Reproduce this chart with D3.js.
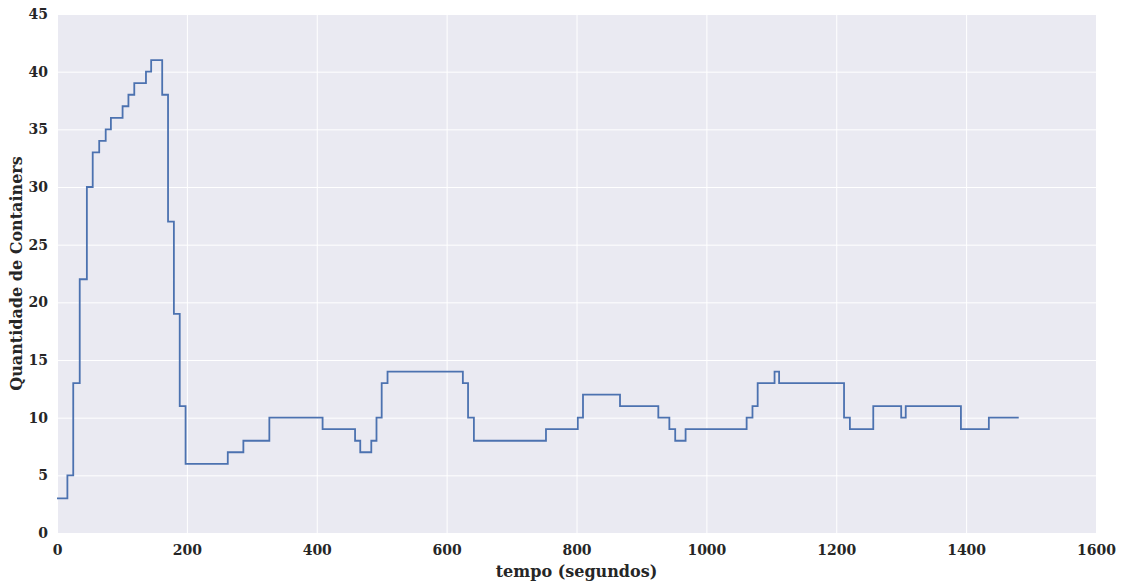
<!DOCTYPE html>
<html>
<head>
<meta charset="utf-8">
<script src="https://cdn.jsdelivr.net/npm/d3@7"></script>
<style>
  html, body { margin: 0; padding: 0; background: #fff; }
  svg { display: block; }
  .tick text { font-family: "DejaVu Serif", serif; font-weight: bold; font-size: 14px; fill: #262626; }
  .lbl { font-family: "DejaVu Serif", serif; font-weight: bold; font-size: 16px; fill: #262626; }
</style>
</head>
<body>
<svg id="chart" width="1121" height="585"></svg>
<script>
// Instants (s) at which the container count changes, and the count from then on
const times = [0, 16, 25, 35, 46, 55, 65, 75, 83, 101, 110, 119, 137, 145, 162, 171, 180, 189, 198,
  263, 287, 327, 409, 459, 467, 484, 492, 500, 509, 625, 633, 642,
  753, 802, 810, 867, 926, 943, 952, 968,
  1062, 1071, 1079, 1105, 1112, 1212, 1221, 1257, 1300, 1307, 1392, 1435, 1481];
const containers = [3, 5, 13, 22, 30, 33, 34, 35, 36, 37, 38, 39, 40, 41, 38, 27, 19, 11, 6,
  7, 8, 10, 9, 8, 7, 8, 10, 13, 14, 13, 10, 8,
  9, 10, 12, 11, 10, 9, 8, 9,
  10, 11, 13, 14, 13, 10, 9, 11, 10, 11, 9, 10, 10];
const xTicks = [0, 200, 400, 600, 800, 1000, 1200, 1400, 1600];
const yTicks = [0, 5, 10, 15, 20, 25, 30, 35, 40, 45];

const svg = d3.select("#chart");
const m = { left: 57, right: 1096, top: 14, bottom: 533 };

const x = d3.scaleLinear().domain([0, 1600]).range([m.left, m.right]);
const y = d3.scaleLinear().domain([0, 45]).range([m.bottom, m.top]);

// plot background
svg.append("rect")
  .attr("x", m.left).attr("y", m.top)
  .attr("width", m.right - m.left).attr("height", m.bottom - m.top)
  .attr("fill", "#EAEAF2");

// grid + ticks
const xAxis = svg.append("g")
  .attr("transform", `translate(0,${m.bottom})`)
  .call(d3.axisBottom(x).tickValues(xTicks).tickFormat(d3.format("d"))
    .tickSize(-(m.bottom - m.top)).tickPadding(9));
const yAxis = svg.append("g")
  .attr("transform", `translate(${m.left},0)`)
  .call(d3.axisLeft(y).tickValues(yTicks).tickFormat(d3.format("d"))
    .tickSize(-(m.right - m.left)).tickPadding(9));
[xAxis, yAxis].forEach(a => {
  a.select(".domain").remove();
  a.selectAll(".tick line").attr("stroke", "#fff").attr("stroke-width", 1);
});
xAxis.selectAll(".tick text").attr("dy", "0.9em");

// container count line
const pts = times.map((t, i) => [t, containers[i]]);
svg.append("path")
  .datum(pts)
  .attr("fill", "none")
  .attr("stroke", "#4C72B0")
  .attr("stroke-width", 1.8)
  .attr("d", d3.line().x(d => x(d[0])).y(d => y(d[1])).curve(d3.curveStepAfter));

// axis titles
svg.append("text").attr("class", "lbl")
  .attr("x", (m.left + m.right) / 2).attr("y", 577)
  .attr("text-anchor", "middle").text("tempo (segundos)");
svg.append("text").attr("class", "lbl")
  .attr("transform", `translate(22,${(m.top + m.bottom) / 2}) rotate(-90)`)
  .attr("text-anchor", "middle").text("Quantidade de Containers");
</script>
</body>
</html>
